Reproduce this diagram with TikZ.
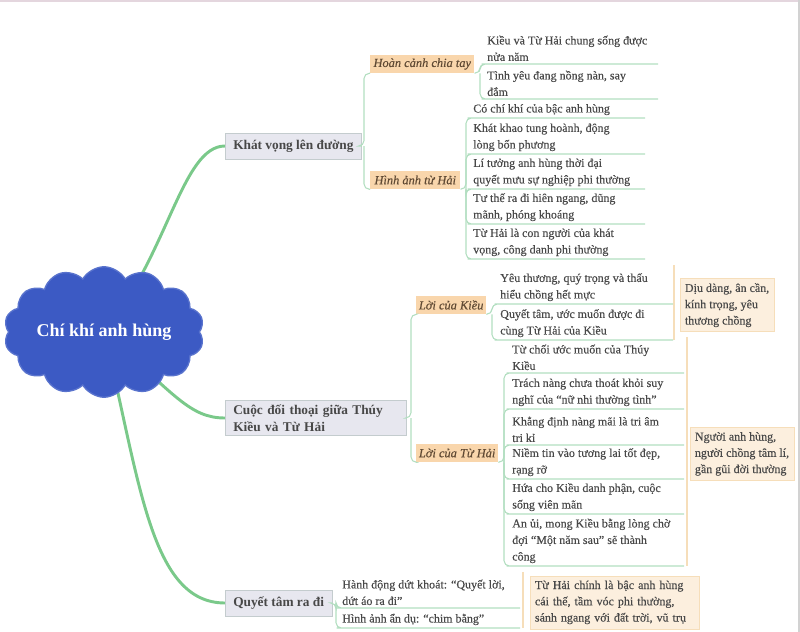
\documentclass[tikz,border=0pt]{standalone}
\usepackage{fontspec}
\setmainfont{Liberation Serif}
\newfontfamily\leaffont{Liberation Serif}[FakeBold=0.3]
\usetikzlibrary{shapes.symbols,backgrounds,calc}
\definecolor{cloudblue}{RGB}{60,90,196}
\definecolor{trunkgreen}{RGB}{122,201,138}
\definecolor{linkgreen}{RGB}{178,222,192}
\definecolor{topicfill}{RGB}{231,231,239}
\definecolor{topicline}{RGB}{196,204,206}
\definecolor{tagfill}{RGB}{249,214,172}
\definecolor{tagtext}{RGB}{96,74,52}
\definecolor{notefill}{RGB}{252,239,222}
\definecolor{noteline}{RGB}{246,222,186}
\definecolor{textgray}{RGB}{72,72,72}
\definecolor{edgepink}{RGB}{228,214,222}
\begin{document}
\begin{tikzpicture}[x=0.75pt, y=-0.75pt,
  root/.style={cloud, cloud puffs=14, cloud puff arc=120, aspect=1.75,
    minimum width=150pt, minimum height=88pt, inner sep=0pt,
    fill=cloudblue, draw=cloudblue!85!white, line width=1pt,
    text=white, font=\fontsize{13.5}{16}\selectfont\bfseries},
  topic/.style={draw=topicline, fill=topicfill, anchor=west, inner xsep=6pt,
    inner ysep=3pt, minimum height=19.5pt, align=left, text=textgray,
    font=\fontsize{10}{13}\selectfont\bfseries},
  subtopic/.style={fill=tagfill, anchor=west, inner sep=2pt, minimum height=13.5pt,
    text=tagtext, font=\fontsize{9.3}{12}\selectfont\leaffont\itshape},
  item/.style={anchor=south west, inner xsep=0pt, inner ysep=2pt, align=left,
    text=textgray, font=\fontsize{9}{12.4}\selectfont\leaffont},
  note/.style={draw=noteline, fill=notefill, anchor=west, inner xsep=3.5pt,
    inner ysep=3.5pt, align=left, text=textgray, font=\fontsize{9}{12.2}\selectfont\leaffont},
  trunk/.style={draw=trunkgreen, line width=2.2pt, line cap=round},
  link/.style={draw=linkgreen, line width=0.8pt, rounded corners=4pt},
  brace/.style={draw=noteline, line width=0.9pt},
]
\useasboundingbox (0,0) rectangle (800,632);
% Frame edges
\draw[edgepink, line width=1.2pt] (0,1) -- (800,1);
\draw[gray!35, line width=0.8pt] (799,0) -- (799,632);

% Central topic
\node[root] (root) at (104,332) {Chí khí anh hùng};

% Main branches
\node[topic, minimum width=99pt] (kv) at (225,146) {Khát vọng lên đường};
\node[topic, text width=124pt] (dl) at (225,418) {Cuộc đối thoại giữa Thúy\\Kiều và Từ Hải};
\node[topic, minimum width=79pt] (qt) at (225,603) {Quyết tâm ra đi};

% Sub branches
\node[subtopic, minimum width=78pt] (hc) at (370,64) {Hoàn cảnh chia tay};
\node[subtopic, minimum width=67.5pt] (ha) at (370,180) {Hình ảnh từ Hải};
\node[subtopic, minimum width=45pt] (lk) at (416,305) {Lời của Kiều};
\node[subtopic, minimum width=61pt] (lt) at (416,453) {Lời của Từ Hải};

% Right ends of the leaf groups
\coordinate (aend) at (658,0);
\coordinate (bend) at (645,0);
\coordinate (cend) at (673,0);
\coordinate (dend) at (684,0);
\coordinate (eend) at (520,0);

% Leaves
\node[item] (a1) at (487,64) {Kiều và Từ Hải chung sống được\\nửa năm};
\node[item] (a2) at (487,99) {Tình yêu đang nồng nàn, say\\đắm};
\node[item] (b1) at (473,118) {Có chí khí của bậc anh hùng};
\node[item] (b2) at (473,154) {Khát khao tung hoành, động\\lòng bốn phương};
\node[item] (b3) at (473,189) {Lí tưởng anh hùng thời đại\\quyết mưu sự nghiệp phi thường};
\node[item] (b4) at (473,224) {Tư thế ra đi hiên ngang, dũng\\mãnh, phóng khoáng};
\node[item] (b5) at (473,259) {Từ Hải là con người của khát\\vọng, công danh phi thường};
\node[item] (c1) at (500,304) {Yêu thương, quý trọng và thấu\\hiểu chồng hết mực};
\node[item] (c2) at (500,340) {Quyết tâm, ước muốn được đi\\cùng Từ Hải của Kiều};
\node[item] (d1) at (512,373) {Từ chối ước muốn của Thúy\\Kiều};
\node[item] (d2) at (512,409) {Trách nàng chưa thoát khỏi suy\\nghĩ của “nữ nhi thường tình”};
\node[item] (d3) at (512,445) {Khẳng định nàng mãi là tri âm\\tri kỉ};
\node[item] (d4) at (512,479) {Niềm tin vào tương lai tốt đẹp,\\rạng rỡ};
\node[item] (d5) at (512,514) {Hứa cho Kiều danh phận, cuộc\\sống viên mãn};
\node[item] (d6) at (512,566) {An ủi, mong Kiều bằng lòng chờ\\đợi “Một năm sau” sẽ thành\\công};
\node[item] (e1) at (342,608) {Hành động dứt khoát: “Quyết lời,\\dứt áo ra đi”};
\node[item] (e2) at (342,628) {Hình ảnh ẩn dụ: “chim bằng”};

% Summaries
\draw[brace] ($(c1.north -| cend)+(1,-5)$) -- ($(c2.south -| cend)+(1,0)$);
\draw[brace] ($(d1.north -| dend)+(3,-5)$) -- ($(d6.south -| dend)+(3,0)$);
\draw[brace] ($(e1.north -| eend)+(3,-5)$) -- ($(e2.south -| eend)+(3,0)$);
\node[note] (n1) at ($(c1.north -| cend)!0.5!(c2.south -| cend)+(7,0)$) {Dịu dàng, ân cần,\\kính trọng, yêu\\thương chồng};
\node[note] (n2) at ($(d1.north -| dend)!0.5!(d6.south -| dend)+(6,0)$) {Người anh hùng,\\người chồng tâm lí,\\gần gũi đời thường};
\node[note, text width=120pt] (n3) at ($(e1.north -| eend)!0.5!(e2.south -| eend)+(10,0)$) {Từ Hải chính là bậc anh hùng\\cái thế, tầm vóc phi thường,\\sánh ngang với đất trời, vũ trụ};

% Trunks
\begin{scope}[on background layer]
\draw[trunk] (root.center) .. controls (168,255) and (182,146) .. (kv.west);
\draw[trunk] (root.center) .. controls (175,395) and (190,418) .. (dl.west);
\draw[trunk] (root.center) .. controls (140,480) and (150,603) .. (qt.west);
\end{scope}

% Links to sub branches
\coordinate (kvhub) at ($(kv.east -| hc.west)+(-6,0)$);
\draw[link] (kv.east) -- (kvhub) |- (hc.south west);
\draw[link] (kvhub) |- (ha.south west);
\coordinate (dlhub) at ($(dl.east -| lk.west)+(-5,0)$);
\draw[link] (dl.east) -- (dlhub) |- (lk.south west);
\draw[link] (dlhub) |- (lt.south west);

% Links to leaves
\coordinate (hchub) at ($(hc.south east -| a1.west)+(-7,0)$);
\draw[link] (hc.south east) -- (hchub) |- (a1.south west) -- (a1.south -| aend);
\draw[link] (hchub) |- (a2.south west) -- (a2.south -| aend);
\coordinate (hahub) at ($(ha.south east -| b1.west)+(-7,0)$);
\draw[link] (ha.south east) -- (hahub) |- (b1.south west) -- (b1.south -| bend);
\draw[link] (hahub) |- (b2.south west) -- (b2.south -| bend);
\draw[link] (hahub) |- (b3.south west) -- (b3.south -| bend);
\draw[link] (hahub) |- (b4.south west) -- (b4.south -| bend);
\draw[link] (hahub) |- (b5.south west) -- (b5.south -| bend);
\coordinate (lkhub) at ($(lk.south east -| c1.west)+(-8,0)$);
\draw[link] (lk.south east) -- (lkhub) |- (c1.south west) -- (c1.south -| cend);
\draw[link] (lkhub) |- (c2.south west) -- (c2.south -| cend);
\coordinate (lthub) at ($(lt.south east -| d1.west)+(-8,0)$);
\draw[link] (lt.south east) -- (lthub) |- (d1.south west) -- (d1.south -| dend);
\draw[link] (lthub) |- (d2.south west) -- (d2.south -| dend);
\draw[link] (lthub) |- (d3.south west) -- (d3.south -| dend);
\draw[link] (lthub) |- (d4.south west) -- (d4.south -| dend);
\draw[link] (lthub) |- (d5.south west) -- (d5.south -| dend);
\draw[link] (lthub) |- (d6.south west) -- (d6.south -| dend);
\coordinate (qthub) at ($(qt.east -| e1.west)+(-6,0)$);
\draw[link] (qt.east) -- (qthub) |- (e1.south west) -- (e1.south -| eend);
\draw[link] (qthub) |- (e2.south west) -- (e2.south -| eend);
\end{tikzpicture}
\end{document}
